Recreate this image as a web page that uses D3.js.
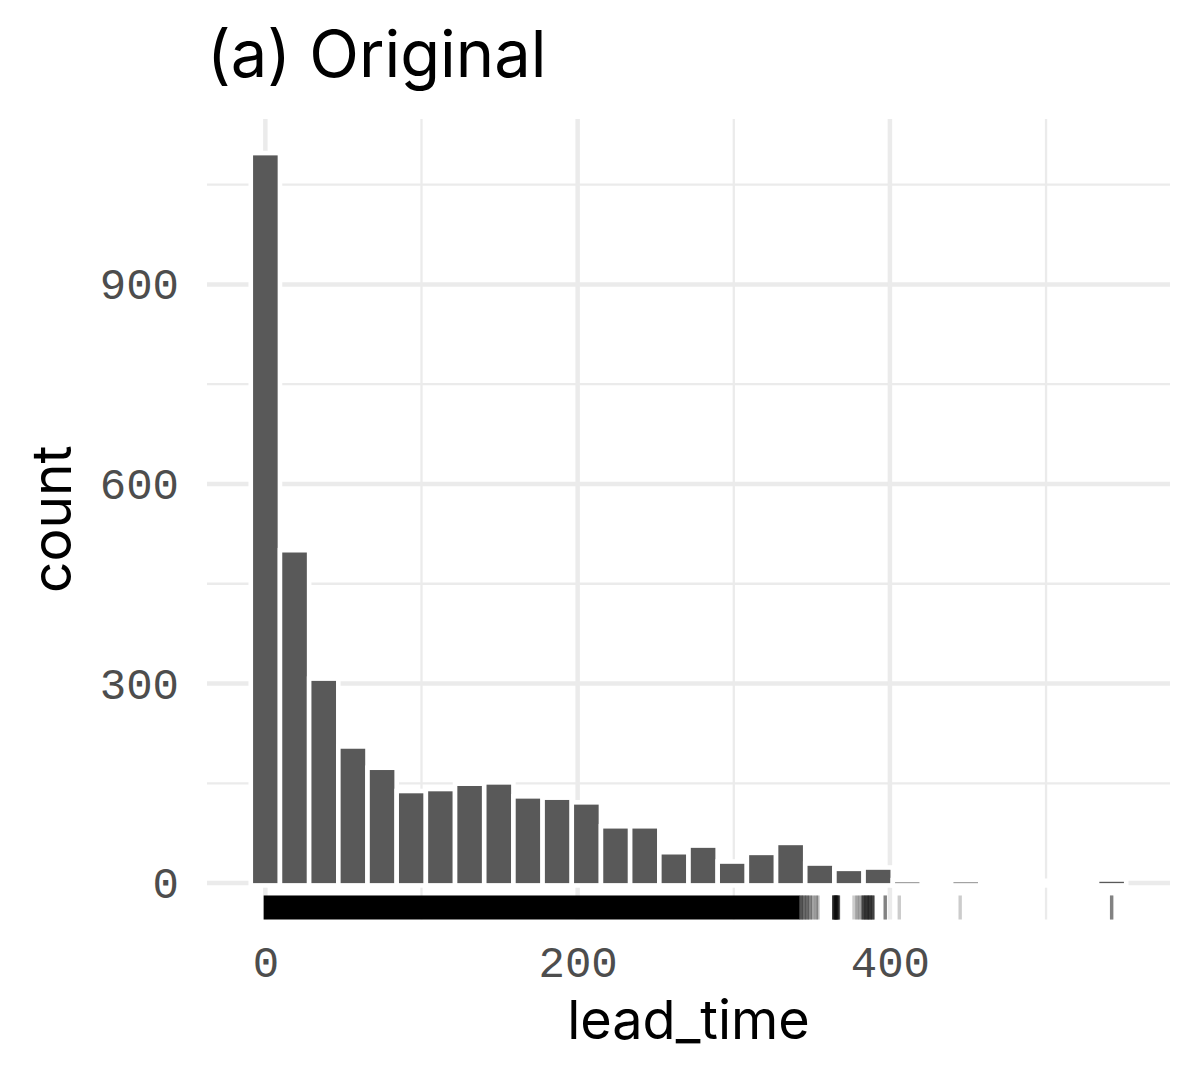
<!DOCTYPE html>
<meta charset="utf-8">
<html>
<head>
<script src="https://d3js.org/d3.v7.min.js"></script>
<style>
  body { margin: 0; background: #fff; }
  .tick-lab { font-family: "Liberation Mono", "DejaVu Sans Mono", monospace; fill: #4d4d4d; }
  .ttl { font-family: Inter, "Noto Sans", sans-serif; fill: #000; }
</style>
</head>
<body>
<div id="chart"></div>
<script>

// histogram of lead_time, 30 bins (ggplot default)
var dataMax = 542;
var nBins = 30;
var counts = [1094, 497, 304, 202, 170, 135, 138, 146, 148, 127, 125, 118, 82, 82, 43,
              53, 29, 42, 57, 26, 18, 20, 1, 0, 1, 0, 0, 0, 0, 2];
var xTicks = [0, 200, 400];
var yTicks = [0, 300, 600, 900];
var xMinor = [100, 300, 500];
var yMinor = [150, 450, 750, 1050];

// rug: dense stretch of values (from, to, opacity) and single sparse values (value, how many)
var rugBands = [[0, 341, 1]];
var rugValues = [[343, 5], [345, 4], [347, 4], [349, 3], [351, 2], [353, 2], [354, 1],
                 [364, 6], [365, 6], [366, 6], [367, 5], [377, 1], [379, 2], [381, 2], [383, 6], [385, 7],
                 [387, 7], [389, 6], [397, 3], [406, 1], [445, 1], [542, 3]];

var W = 1200, H = 1080;
var panel = {left: 207, right: 1170, top: 119, bottom: 919.5};

var svg = d3.select("#chart").append("svg")
    .attr("width", W).attr("height", H)
    .style("background", "#fff");

var bw = dataMax / (nBins - 1);
var bins = counts.map(function(c, i) { return {lo: i * bw - bw / 2, hi: i * bw + bw / 2, n: c}; });

var xLo = -bw / 2, xHi = dataMax + bw / 2;
var xPad = (xHi - xLo) * 0.05;
var x = d3.scaleLinear().domain([xLo - xPad, xHi + xPad]).range([panel.left, panel.right]);
var yMax = d3.max(counts);
var y = d3.scaleLinear().domain([-yMax * 0.05, yMax * 1.05]).range([panel.bottom, panel.top]);

var grid = svg.append("g");
grid.selectAll("line.hmin").data(yMinor).enter().append("line")
    .attr("x1", panel.left).attr("x2", panel.right)
    .attr("y1", function(d) { return y(d); }).attr("y2", function(d) { return y(d); })
    .attr("stroke", "#ebebeb").attr("stroke-width", 2.3);
grid.selectAll("line.vmin").data(xMinor).enter().append("line")
    .attr("y1", panel.top).attr("y2", panel.bottom)
    .attr("x1", function(d) { return x(d); }).attr("x2", function(d) { return x(d); })
    .attr("stroke", "#ebebeb").attr("stroke-width", 2.3);
grid.selectAll("line.hmaj").data(yTicks).enter().append("line")
    .attr("x1", panel.left).attr("x2", panel.right)
    .attr("y1", function(d) { return y(d); }).attr("y2", function(d) { return y(d); })
    .attr("stroke", "#ebebeb").attr("stroke-width", 4.5);
grid.selectAll("line.vmaj").data(xTicks).enter().append("line")
    .attr("y1", panel.top).attr("y2", panel.bottom)
    .attr("x1", function(d) { return x(d); }).attr("x2", function(d) { return x(d); })
    .attr("stroke", "#ebebeb").attr("stroke-width", 4.5);

// bars, white outline like geom_histogram(colour = "white")
var sw = 4.6;
svg.append("g").selectAll("rect").data(bins).enter().append("rect")
    .attr("x", function(d) { return x(d.lo); })
    .attr("width", function(d) { return x(d.hi) - x(d.lo); })
    .attr("y", function(d) { return y(d.n) - sw / 2; })
    .attr("height", function(d) { return y(0) - y(d.n) + sw; })
    .attr("fill", "#595959")
    .attr("stroke", "#fff")
    .attr("stroke-width", sw);

// rug along the bottom 3% of the panel
var rugTop = panel.bottom - (panel.bottom - panel.top) * 0.03;
var rug = svg.append("g");
rug.selectAll("rect").data(rugBands).enter().append("rect")
    .attr("x", function(d) { return x(d[0]) - 1.7; })
    .attr("width", function(d) { return x(d[1]) - x(d[0]) + 3.4; })
    .attr("y", rugTop).attr("height", panel.bottom - rugTop)
    .attr("fill", "#000").attr("fill-opacity", function(d) { return d[2]; });
var rugLines = [];
rugValues.forEach(function(d) { for (var k = 0; k < d[1]; k++) rugLines.push(d[0]); });
rug.selectAll("line").data(rugLines).enter().append("line")
    .attr("x1", function(d) { return x(d); }).attr("x2", function(d) { return x(d); })
    .attr("y1", rugTop).attr("y2", panel.bottom)
    .attr("stroke", "#000").attr("stroke-opacity", 0.2).attr("stroke-width", 3.4);

// axes (no lines, labels only)
var xAxis = svg.append("g").attr("transform", "translate(0," + panel.bottom + ")")
    .call(d3.axisBottom(x).tickValues(xTicks).tickSize(0).tickPadding(0));
xAxis.select(".domain").remove();
xAxis.selectAll("text").attr("class", "tick-lab").attr("dy", null)
    .attr("y", 57).style("font-size", "44px");

var yAxis = svg.append("g").attr("transform", "translate(" + panel.left + ",0)")
    .call(d3.axisLeft(y).tickValues(yTicks).tickSize(0).tickPadding(0));
yAxis.select(".domain").remove();
yAxis.selectAll("text").attr("class", "tick-lab").attr("x", -28)
    .attr("dy", "0.33em").style("font-size", "44px");
svg.selectAll(".tick-lab").attr("font-family", null).attr("fill", null);

// titles
svg.append("text").attr("class", "ttl")
    .attr("x", 207).attr("y", 77)
    .style("font-size", "65px")
    .text("(a) Original");
svg.append("text").attr("class", "ttl")
    .attr("x", (panel.left + panel.right) / 2).attr("y", 1039)
    .attr("text-anchor", "middle")
    .style("font-size", "54px")
    .text("lead_time");
svg.append("text").attr("class", "ttl")
    .attr("transform", "translate(71," + (panel.top + panel.bottom) / 2 + ") rotate(-90)")
    .attr("text-anchor", "middle")
    .style("font-size", "55px")
    .text("count");

</script>
</body>
</html>
